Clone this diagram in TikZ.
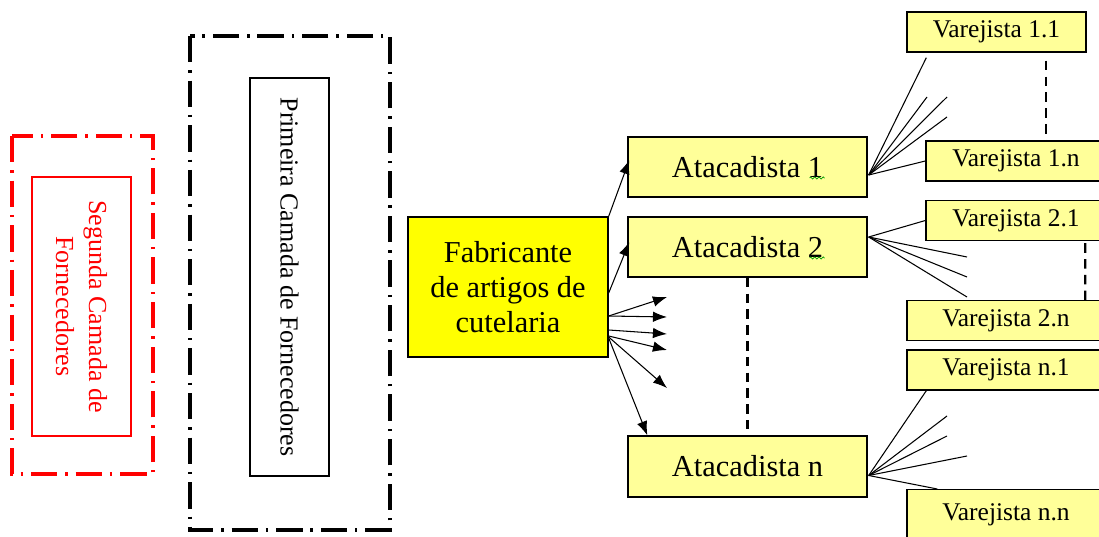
\documentclass[tikz,border=0pt]{standalone}
\usepackage{fontspec}
\setmainfont{LiberationSerif}[Extension=.ttf, UprightFont=*-Regular, BoldFont=*-Bold,
    ItalicFont=*-Italic, BoldItalicFont=*-BoldItalic]
\usetikzlibrary{calc, arrows.meta, decorations.pathmorphing}

\definecolor{amarelo}{HTML}{FFFF99}
\definecolor{amareloforte}{HTML}{FFFF00}

\tikzset{
    caixa/.style={draw, line width=0.8pt, fill=amarelo, inner sep=0pt,
        minimum width=4.78cm, minimum height=1.2cm,
        font=\fontsize{17.3}{19.9}\selectfont},
    varejo/.style={draw, line width=0.8pt, fill=amarelo, inner sep=0pt,
        minimum height=0.8cm, font=\fontsize{14.5}{17}\selectfont},
    camada/.style={draw, rotate=-90, inner sep=0pt, align=center,
        font=\fontsize{14.8}{18.7}\selectfont},
    moldura/.style={line width=1.8pt, dash pattern=on 15pt off 4.5pt on 1.4pt off 4.5pt},
    seta/.style={-{Latex[length=8pt,width=6pt]}, line width=0.6pt},
    ramo/.style={line width=0.6pt},
    tracejado/.style={line width=1.3pt, dash pattern=on 5.5pt off 3.5pt},
    erro/.style={green!60!black, line width=0.4pt, decorate,
        decoration={zigzag, amplitude=0.6pt, segment length=2.4pt}}
}

\begin{document}
\begin{tikzpicture}[x=0.02cm, y=-0.02cm]
    \useasboundingbox (0,0) rectangle (1099,537);
    \clip (0,0) rectangle (1099,537);

    % fornecedores
    \draw[moldura, red] (12,136) rectangle (153,474);
    \node[camada, red, line width=0.7pt, minimum width=5.18cm, minimum height=1.98cm]
        (seg) at (81.5,306.5) {Segunda Camada de\\Fornecedores};

    \draw[moldura] (190,36) rectangle (390,530);
    \node[camada, line width=0.8pt, minimum width=7.96cm, minimum height=1.58cm]
        (prim) at (289.5,277) {Primeira Camada de Fornecedores};

    % fabricante e atacadistas
    \node[caixa, fill=amareloforte, align=center, minimum width=4cm, minimum height=2.8cm]
        (fab) at (508,287) {Fabricante\\de artigos de\\cutelaria};
    \node[caixa] (at1) at (747.5,167) {Atacadista 1};
    \node[caixa] (at2) at (747.5,247) {Atacadista 2};
    \node[caixa, minimum height=1.22cm] (atn) at (747.5,466.5) {Atacadista n};

    \draw[erro] ($(at1.center)+(62,11)$) -- ++(15,0);
    \draw[erro] ($(at2.center)+(62,11)$) -- ++(15,0);

    % varejistas
    \node[varejo, minimum width=3.58cm] (v11) at (996.5,32) {Varejista 1.1};
    \node[varejo, minimum width=3.6cm] (v1n) at (1016,161) {Varejista 1.n};
    \node[varejo, minimum width=3.6cm] (v21) at (1016,220.5) {Varejista 2.1};
    \node[varejo, minimum width=3.96cm] (v2n) at (1006,320.5) {Varejista 2.n};
    \node[varejo, minimum width=3.96cm] (vn1) at (1006,370) {Varejista n.1};
    \node[varejo, minimum width=3.96cm, anchor=north, text height=17.6pt, text depth=14pt]
        (vnn) at (1006,489) {Varejista n.n};

    % setas do fabricante
    \coordinate (s1) at (667,297);
    \coordinate (s2) at (667,317);
    \coordinate (s3) at (667,334);
    \coordinate (s4) at (667,350);
    \coordinate (s5) at (667,388);

    \draw[seta] (fab.north east) -- ($(at1.west)+(2,-7)$);
    \draw[seta] ($(fab.east)+(0,6)$) -- ($(at2.west)+(2,-5)$);
    \draw[seta] ($(fab.east)+(0,29)$) -- (s1);
    \draw[seta] ($(fab.east)+(0,29)$) -- (s2);
    \draw[seta] ($(fab.east)+(0,43)$) -- (s3);
    \draw[seta] ($(fab.east)+(0,49)$) -- (s4);
    \draw[seta] ($(fab.east)+(0,50)$) -- (s5);
    \draw[seta] ($(fab.east)+(0,51)$) -- ($(atn.north west)+(20,0)$);

    \draw[tracejado] (at2.south) -- ($(atn.north)+(0,-6)$);

    % ramos dos atacadistas
    \coordinate (a1) at (927,97);
    \coordinate (a2) at (947,97);
    \coordinate (a3) at (947,117);
    \draw[ramo] ($(at1.east)+(1,8)$) -- ($(v11.south west)+(20,5)$);
    \draw[ramo] ($(at1.east)+(1,8)$) -- (a1);
    \draw[ramo] ($(at1.east)+(1,8)$) -- (a2);
    \draw[ramo] ($(at1.east)+(1,8)$) -- (a3);
    \draw[ramo] ($(at1.east)+(1,8)$) -- (v1n.west);
    \draw[tracejado] ($(v11.south west)+(140,8)$) -- ($(v1n.north west)+(121,0)$);

    \coordinate (b1) at (967,257);
    \coordinate (b2) at (967,277);
    \coordinate (b3) at (967,297);
    \draw[ramo] ($(at2.east)+(1,-10)$) -- (v21.west);
    \draw[ramo] ($(at2.east)+(1,-10)$) -- (b1);
    \draw[ramo] ($(at2.east)+(1,-10)$) -- (b2);
    \draw[ramo] ($(at2.east)+(1,-10)$) -- (b3);
    \draw[tracejado] ($(v21.south west)+(160,2)$) -- ($(v2n.north west)+(179,0)$);

    \coordinate (c1) at (947,416);
    \coordinate (c2) at (947,436);
    \coordinate (c3) at (967,456);
    \draw[ramo] ($(atn.east)+(1,9)$) -- ($(vn1.south west)+(20,0)$);
    \draw[ramo] ($(atn.east)+(1,9)$) -- (c1);
    \draw[ramo] ($(atn.east)+(1,9)$) -- (c2);
    \draw[ramo] ($(atn.east)+(1,9)$) -- (c3);
    \draw[ramo] ($(atn.east)+(1,9)$) -- ($(vnn.north west)+(31,0)$);
\end{tikzpicture}
\end{document}
